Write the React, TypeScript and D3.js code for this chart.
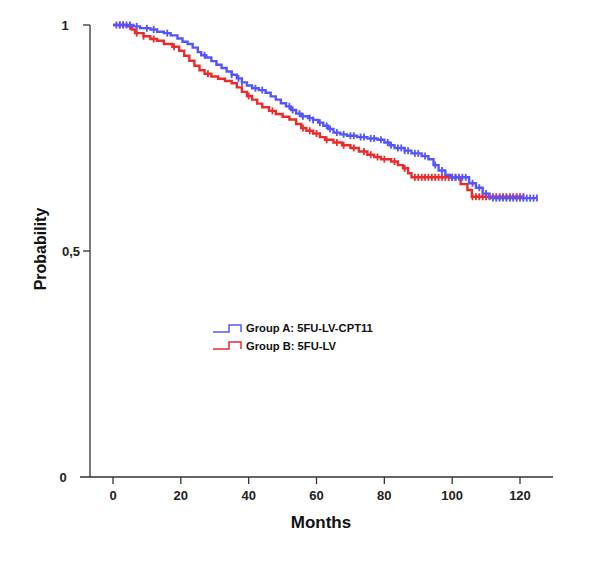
import React from "react";
import * as d3 from "d3";

const xTicks = [0, 20, 40, 60, 80, 100, 120];
const yTicks = [0, 0.5, 1];
const yTickLabels = ["0", "0,5", "1"];

const groupAName = "Group A: 5FU-LV-CPT11";
const groupBName = "Group B: 5FU-LV";

// Kaplan-Meier steps: [month, survival after step]
const groupASteps: [number, number][] = [
  [0, 1], [6, 0.997], [8, 0.993], [11, 0.99], [13, 0.985], [15, 0.982], [17, 0.977],
  [19, 0.97], [20.5, 0.963], [22, 0.958], [23.5, 0.95], [25, 0.94], [26, 0.933],
  [27.5, 0.928], [29, 0.92], [30.5, 0.912], [32, 0.905], [33.5, 0.897], [35, 0.89],
  [36.5, 0.882], [38, 0.873], [39.5, 0.866], [41, 0.86], [43, 0.856], [45, 0.85],
  [46.5, 0.842], [48, 0.835], [49.5, 0.827], [51, 0.82], [52.5, 0.812], [54, 0.804],
  [55.5, 0.798], [57.5, 0.794], [59, 0.79], [60.5, 0.784], [62, 0.777], [63.5, 0.77],
  [65, 0.762], [67, 0.758], [69, 0.755], [72, 0.752], [75, 0.749], [78, 0.746],
  [80, 0.74], [81.5, 0.734], [83, 0.728], [86, 0.722], [88, 0.716], [91, 0.71],
  [93, 0.703], [94.5, 0.69], [96, 0.678], [98, 0.668], [99.5, 0.663], [105, 0.65],
  [107, 0.64], [109, 0.627], [111, 0.617], [125, 0.617],
];

const groupBSteps: [number, number][] = [
  [0, 1], [4, 0.997], [5.5, 0.99], [6.5, 0.982], [9, 0.975], [11, 0.969], [13, 0.965],
  [15, 0.958], [17.5, 0.952], [19.5, 0.943], [21, 0.932], [22.5, 0.921], [24, 0.91],
  [25.5, 0.9], [27, 0.892], [29, 0.886], [31, 0.881], [33, 0.876], [35, 0.871],
  [36.5, 0.862], [38, 0.852], [39.5, 0.843], [41, 0.835], [42.5, 0.826], [44, 0.818],
  [46, 0.81], [48, 0.803], [50, 0.797], [52, 0.791], [54, 0.781], [55.5, 0.772],
  [57, 0.766], [59, 0.76], [61, 0.752], [62.5, 0.746], [65, 0.74], [67.5, 0.734],
  [70, 0.728], [72.5, 0.72], [75, 0.713], [77, 0.708], [79, 0.703], [82, 0.698],
  [84, 0.69], [85.5, 0.683], [87, 0.672], [88, 0.663], [102.5, 0.648], [104.5, 0.635],
  [105.8, 0.62], [121, 0.62],
];

const groupACensored = [1, 2, 3, 4, 5, 7, 10, 12, 16, 27, 35, 37, 38, 42, 44, 52, 53, 55, 56, 58,
  59, 61, 63, 64, 66, 68, 70, 71, 73, 74, 76, 77, 79, 81, 82, 84, 85, 86, 87, 89, 90, 92, 95,
  97, 100, 101, 102, 103, 104, 106, 108, 110, 112, 113, 114, 115, 116, 117, 118, 119, 120,
  121, 122, 123, 124, 125];

const groupBCensored = [2, 3, 5, 7, 9, 12, 18, 28, 40, 47, 56, 58, 60, 63, 66, 68, 71, 74, 76,
  78, 80, 83, 86, 89, 90, 91, 92, 93, 94, 95, 96, 97, 98, 99, 100, 101, 106, 107, 108, 109,
  110, 111, 112, 113, 114, 115, 116, 117, 118, 119, 120, 121];

const BLUE = "#5555ff";
const RED = "#ee2a2a";
const FONT = "'Liberation Sans', Arial, sans-serif";

function survivalAt(steps: [number, number][], t: number) {
  let v = 1;
  for (const [m, s] of steps) {
    if (m <= t) v = s;
    else break;
  }
  return v;
}

export default function App() {
  const x = d3.scaleLinear().domain([0, 120]).range([113, 520]);
  const y = d3.scaleLinear().domain([0, 1]).range([477, 25]);
  const axisLeftX = 90;
  const line = d3
    .line<[number, number]>()
    .x((d) => x(d[0]))
    .y((d) => y(d[1]))
    .curve(d3.curveStepAfter);

  const series = [
    { steps: groupBSteps, cens: groupBCensored, color: RED },
    { steps: groupASteps, cens: groupACensored, color: BLUE },
  ];

  const yLabelPos: Record<string, { x: number; anchor: string }> = {
    "0": { x: 63, anchor: "middle" },
    "0,5": { x: 80, anchor: "end" },
    "1": { x: 65, anchor: "middle" },
  };

  return (
    <svg
      width={600}
      height={563}
      style={{ position: "absolute", left: 0, top: 0, background: "#fff" }}
      fontFamily={FONT}
    >
      <rect width={600} height={563} fill="#fff" />
      {/* axes */}
      <line x1={axisLeftX} x2={axisLeftX} y1={y(1)} y2={y(0)} stroke="#333" strokeWidth={1.3} />
      <line x1={80} x2={553} y1={y(0)} y2={y(0)} stroke="#333" strokeWidth={1.3} />
      {yTicks.map((t, i) => {
        const p = yLabelPos[yTickLabels[i]];
        return (
          <g key={t}>
            {t > 0 && (
              <line x1={83} x2={axisLeftX} y1={y(t)} y2={y(t)} stroke="#333" strokeWidth={1.3} />
            )}
            <text
              x={p.x}
              y={y(t) + 5}
              textAnchor={p.anchor as any}
              fontSize={13}
              fontWeight="bold"
              fill="#222"
            >
              {yTickLabels[i]}
            </text>
          </g>
        );
      })}
      {xTicks.map((t) => (
        <g key={t}>
          <line x1={x(t)} x2={x(t)} y1={y(0)} y2={y(0) + 7} stroke="#333" strokeWidth={1.3} />
          <text x={x(t)} y={500} textAnchor="middle" fontSize={13} fontWeight="bold" fill="#222">
            {t}
          </text>
        </g>
      ))}
      <text x={321} y={528} textAnchor="middle" fontSize={17} fontWeight="bold" fill="#111">
        Months
      </text>
      <text
        transform={`translate(46,249) rotate(-90)`}
        textAnchor="middle"
        fontSize={16}
        fontWeight="bold"
        fill="#111"
      >
        Probability
      </text>

      {/* curves */}
      {series.map((s, i) => (
        <g key={i}>
          <path d={line(s.steps) || ""} fill="none" stroke={s.color} strokeWidth={2.4} />
          {s.cens.map((c, j) => {
            const cy = y(survivalAt(s.steps, c));
            return (
              <line
                key={j}
                x1={x(c)}
                x2={x(c)}
                y1={cy - 3.5}
                y2={cy + 3.5}
                stroke={s.color}
                strokeWidth={1.8}
              />
            );
          })}
        </g>
      ))}

      {/* legend */}
      <path d="M213,332 H229 V325 H241 V332" fill="none" stroke={BLUE} strokeWidth={1.5} />
      <text x={246} y={332} fontSize={11.2} fontWeight="bold" fill="#111">
        {groupAName}
      </text>
      <path d="M213,349 H229 V342 H241 V349" fill="none" stroke={RED} strokeWidth={1.5} />
      <text x={246} y={350} fontSize={11.2} fontWeight="bold" fill="#111">
        {groupBName}
      </text>
    </svg>
  );
}
